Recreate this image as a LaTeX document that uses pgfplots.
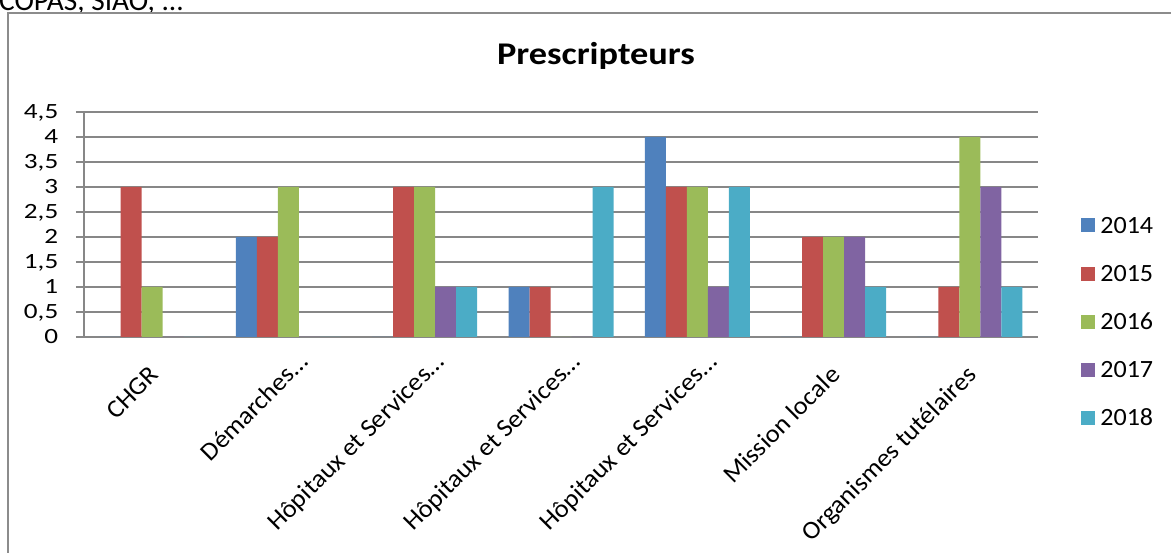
\documentclass[border=0pt]{standalone}
\usepackage{fontspec}
\setmainfont{Carlito}
\newfontfamily\tickfont{Carlito}[FakeStretch=1.25]
\newfontfamily\catfont{Carlito}[FakeStretch=1.05]
\newfontfamily\titlefont{Carlito}[FakeStretch=1.15]
\usepackage{pgfplots}
\usepackage{pgfplotstable}
\pgfplotsset{compat=1.18}

\definecolor{c14}{HTML}{4F81BD}
\definecolor{c15}{HTML}{C0504D}
\definecolor{c16}{HTML}{9BBB59}
\definecolor{c17}{HTML}{8064A2}
\definecolor{c18}{HTML}{4BACC6}
\definecolor{gridgray}{HTML}{878787}
\definecolor{framegray}{HTML}{8C8C8C}

% number of prescriptions per orienting body and year
\pgfplotstableread{
cat y14 y15 y16 y17 y18
0   0   3   1   0   0
1   2   2   3   0   0
2   0   3   3   1   1
3   1   1   0   0   3
4   4   3   3   1   3
5   0   2   2   2   1
6   0   1   4   3   1
}\prescripteurs

% truncated category names: the ellipsis hangs past the label anchor
\newcommand{\cut}[1]{#1\rlap{…}}

\begin{document}
\begin{tikzpicture}[x=0.75pt,y=0.75pt]
\useasboundingbox (0,0) rectangle (1171,553);
\clip (0,0) rectangle (1171,553);
% surrounding text line and chart frame
\node[anchor=base east, inner sep=0pt, font=\fontsize{22}{26}\selectfont] at (184,542.3) {COPAS, SIAO, ...};
\draw[framegray, line width=1pt] (8,540) rectangle (1200,-30);
\node[anchor=base, inner sep=0pt, font=\titlefont\bfseries\fontsize{23.7}{28}\selectfont] at (596,488) {Prescripteurs};
\begin{axis}[
  at={(63pt,162pt)}, anchor=south west,
  scale only axis, width=715.5pt, height=168.75pt,
  xmin=-0.5, xmax=6.5, ymin=0, ymax=4.5,
  ybar=0pt, bar width=15.75pt,
  xtick={0,1,2,3,4,5,6},
  xticklabels={CHGR, \cut{Démarches}, \cut{Hôpitaux et Services}, \cut{Hôpitaux et Services}, \cut{Hôpitaux et Services}, Mission locale, Organismes tutélaires},
  ytick={0,0.5,1,1.5,2,2.5,3,3.5,4,4.5},
  axis x line*=bottom, axis y line*=left,
  axis line style={-, draw=gridgray, line width=1pt},
  ymajorgrids, grid style={gridgray, line width=1pt},
  tick align=outside, major tick length=6pt,
  xtick style={draw=none}, ytick style={gridgray, line width=1pt},
  /pgf/number format/use comma,
  /pgf/number format/assume math mode=true,
  yticklabel style={font=\tickfont\fontsize{16.3}{17}\selectfont, anchor=east, inner sep=0pt, text height=10.4pt, text depth=0pt, xshift=-13.1pt},
  xticklabel style={font=\catfont\fontsize{19}{22}\selectfont, xshift=-4pt, yshift=-13.5pt, rotate=45, anchor=north east, inner sep=0pt, text height=14pt, text depth=4pt},
  legend style={at={(1.0451,0.544)}, anchor=north west, draw=none, fill=none, inner sep=0pt, outer sep=0pt, row sep=18.1pt, column sep=0pt, font=\catfont\fontsize{18.6}{20}\selectfont, nodes={inner sep=0pt, text height=14pt, text depth=4pt, anchor=base west}},
  legend cell align=left,
  legend image code/.code={\fill[#1] (0pt,0.65pt) rectangle (10.5pt,11.15pt); \path (14.5pt,0pt);},
]
\addplot[fill=c14, draw=none] table[x=cat, y=y14] {\prescripteurs};
\addplot[fill=c15, draw=none] table[x=cat, y=y15] {\prescripteurs};
\addplot[fill=c16, draw=none] table[x=cat, y=y16] {\prescripteurs};
\addplot[fill=c17, draw=none] table[x=cat, y=y17] {\prescripteurs};
\addplot[fill=c18, draw=none] table[x=cat, y=y18] {\prescripteurs};
\legend{2014, 2015, 2016, 2017, 2018}
\end{axis}
\end{tikzpicture}
\end{document}
